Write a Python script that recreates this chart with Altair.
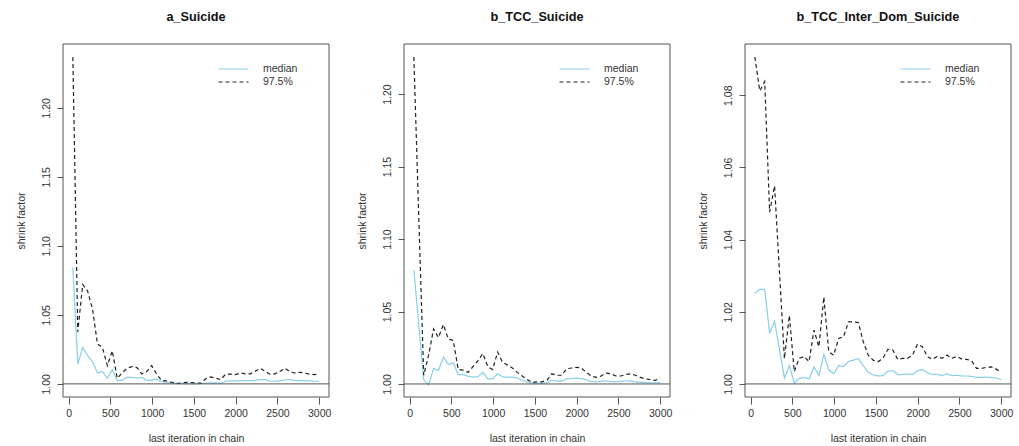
import altair as alt
import pandas as pd

iterations = [51, 110, 169, 228, 287, 346, 405, 464, 523, 582, 641, 700, 759, 818, 877,
              936, 995, 1054, 1113, 1172, 1231, 1290, 1349, 1408, 1467, 1526, 1585, 1644,
              1703, 1762, 1821, 1880, 1939, 1998, 2057, 2116, 2175, 2234, 2293, 2352, 2411,
              2470, 2529, 2588, 2647, 2706, 2765, 2824, 2883, 2942, 3000]

titles = ["a_Suicide", "b_TCC_Suicide", "b_TCC_Inter_Dom_Suicide"]
series_names = ["median", "97.5%"]

a_median = [1.0845, 1.0144, 1.0264, 1.0204, 1.016, 1.0079, 1.009, 1.004, 1.0103, 1.0024,
            1.0026, 1.0048, 1.0046, 1.0043, 1.0046, 1.0026, 1.0026, 1.0036, 1.0017, 1.001,
            1.0007, 1.0005, 1.0002, 1.0002, 1.0, 1.0, 1.0002, 1.0005, 1.0007, 1.0007,
            1.0005, 1.0019, 1.0022, 1.0022, 1.0022, 1.0024, 1.0024, 1.0026, 1.0031, 1.0031,
            1.0019, 1.0019, 1.0022, 1.0029, 1.0031, 1.0026, 1.0022, 1.0024, 1.0022, 1.0019,
            1.0019]
a_q975 = [1.2367, 1.0377, 1.072, 1.0672, 1.054, 1.0288, 1.0264, 1.0132, 1.024, 1.0041,
          1.0079, 1.0113, 1.0125, 1.0118, 1.0072, 1.0089, 1.0132, 1.0072, 1.0024, 1.0022,
          1.0012, 1.0002, 1.0007, 1.0012, 1.001, 1.0007, 1.0005, 1.0038, 1.005, 1.0041,
          1.0031, 1.007, 1.007, 1.0067, 1.0079, 1.0072, 1.0072, 1.0091, 1.0113, 1.0091,
          1.007, 1.0072, 1.0089, 1.0113, 1.0089, 1.0079, 1.0084, 1.0079, 1.007, 1.0067,
          1.007]

b_median = [1.0786, 1.041, 1.003, 0.9993, 1.0107, 1.0093, 1.0186, 1.0135, 1.0147, 1.0065,
            1.0065, 1.0053, 1.0047, 1.0049, 1.0081, 1.0035, 1.0035, 1.007, 1.0049, 1.0047,
            1.0047, 1.0042, 1.0026, 1.0014, 1.0005, 1.0002, 1.0005, 1.0007, 1.0026, 1.0019,
            1.0019, 1.0035, 1.0037, 1.004, 1.0037, 1.003, 1.0016, 1.0014, 1.0019, 1.0021,
            1.0016, 1.0016, 1.0019, 1.0021, 1.0019, 1.0014, 1.0012, 1.0009, 1.0007, 1.0007,
            1.0009]
b_q975 = [1.2256, 1.115, 1.006, 1.02, 1.038, 1.032, 1.041, 1.031, 1.030, 1.010,
          1.0095, 1.008, 1.012, 1.016, 1.021, 1.012, 1.01, 1.022, 1.015, 1.013,
          1.011, 1.008, 1.0055, 1.003, 1.001, 1.0015, 1.0015, 1.0025, 1.007, 1.006,
          1.006, 1.0105, 1.011, 1.0115, 1.011, 1.008, 1.0055, 1.0045, 1.0055, 1.0075,
          1.007, 1.0055, 1.0055, 1.0065, 1.007, 1.006, 1.0045, 1.0035, 1.003, 1.0025,
          1.004]

c_median = [1.0251, 1.0262, 1.0262, 1.014, 1.0174, 1.0095, 1.0016, 1.0051, 1.0002, 1.0016,
            1.0018, 1.0014, 1.0047, 1.0023, 1.0082, 1.0039, 1.0028, 1.0051, 1.0048, 1.0062,
            1.0066, 1.007, 1.0051, 1.0032, 1.0025, 1.0022, 1.0023, 1.0035, 1.0037, 1.0026,
            1.0026, 1.0028, 1.0026, 1.0037, 1.004, 1.0031, 1.0026, 1.0027, 1.0023, 1.0028,
            1.0023, 1.0024, 1.0022, 1.0022, 1.0021, 1.0018, 1.0018, 1.0019, 1.0018, 1.0016,
            1.0012]
c_q975 = [1.0906, 1.0812, 1.0838, 1.0476, 1.0549, 1.031, 1.007, 1.019, 1.0034, 1.0071,
          1.0076, 1.0062, 1.0149, 1.0103, 1.0241, 1.0089, 1.008, 1.0126, 1.0131, 1.0172,
          1.0172, 1.017, 1.0117, 1.008, 1.0066, 1.0062, 1.0071, 1.0096, 1.0094, 1.0068,
          1.0071, 1.0071, 1.008, 1.011, 1.0103, 1.0076, 1.0068, 1.0076, 1.0071, 1.008,
          1.0071, 1.0076, 1.0069, 1.0068, 1.0064, 1.0043, 1.0043, 1.0046, 1.0047, 1.0041,
          1.0032]

x_ticks = [0, 500, 1000, 1500, 2000, 2500, 3000]
y_ticks = [[1.00, 1.05, 1.10, 1.15, 1.20],
           [1.00, 1.05, 1.10, 1.15, 1.20],
           [1.00, 1.02, 1.04, 1.06, 1.08]]
y_domains = [[0.9905, 1.2462], [0.9910, 1.2346], [0.99638, 1.0942]]
x_domain = [-67, 3118]
ref_value = 1.0

FONT = "Liberation Sans"
TXT = "#333333"
BOX = "#555555"
medians = [a_median, b_median, c_median]
quantiles = [a_q975, b_q975, c_q975]


def panel(k):
    df = pd.DataFrame({
        "iter": iterations * 2,
        "value": medians[k] + quantiles[k],
        "series": ["median"] * len(iterations) + ["97.5%"] * len(iterations),
    })
    leg = alt.Legend(orient="none", legendX=164.5, legendY=19, title=None,
                     symbolType="M-3,0H3", symbolSize=100, symbolStrokeWidth=1.2,
                     labelFont=FONT, labelFontSize=10.5, labelColor=TXT,
                     labelOffset=23.5, padding=0, rowPadding=1)
    xscale = alt.Scale(domain=x_domain, nice=False, zero=False)
    yscale = alt.Scale(domain=y_domains[k], nice=False, zero=False)
    xenc = alt.X("iter:Q", scale=xscale,
                 axis=alt.Axis(values=x_ticks, format="d", title="last iteration in chain",
                               grid=False, domain=False, tickSize=7, tickColor=BOX,
                               labelFont=FONT, labelFontSize=10.5, labelColor=TXT,
                               labelPadding=4, titleFont=FONT, titleFontSize=10.5,
                               titleFontWeight="normal", titleColor=TXT, titlePadding=15,
                               labelFlush=False))
    yenc = alt.Y("value:Q", scale=yscale,
                 axis=alt.Axis(values=y_ticks[k], format=".2f", title="shrink factor",
                               grid=False, domain=False, tickSize=6, tickColor=BOX,
                               labelAngle=270, labelAlign="center", labelBaseline="bottom",
                               labelFont=FONT, labelFontSize=10.5, labelColor=TXT,
                               labelPadding=6, titleFont=FONT, titleFontSize=10.5,
                               titleFontWeight="normal", titleColor=TXT, titlePadding=15,
                               labelFlush=False))
    frame = alt.Chart(pd.DataFrame({
        "iter": [x_domain[0]], "iter2": [x_domain[1]],
        "value": [y_domains[k][0]], "value2": [y_domains[k][1]],
    })).mark_rect(filled=False, stroke=BOX, strokeWidth=1).encode(
        x=alt.X("iter:Q", scale=xscale), x2="iter2:Q",
        y=alt.Y("value:Q", scale=yscale), y2="value2:Q",
    )
    lines = alt.Chart(df).mark_line(strokeWidth=1.2, clip=True).encode(
        x=xenc, y=yenc,
        color=alt.Color("series:N", scale=alt.Scale(domain=series_names,
                                                     range=["#87CEEB", "#222222"]),
                        legend=leg),
        strokeDash=alt.StrokeDash("series:N",
                                  scale=alt.Scale(domain=series_names,
                                                  range=[[1, 0], [4, 3]]),
                                  legend=leg),
        order=alt.Order("iter:Q"),
    )
    rule = alt.Chart(pd.DataFrame({"ref": [ref_value]})).mark_rule(
        color=BOX, strokeWidth=1).encode(y=alt.Y("ref:Q", scale=yscale))
    return alt.layer(lines, rule, frame).properties(
        width=266, height=353,
        title=alt.TitleParams(titles[k], font=FONT, fontSize=12.7, fontWeight="bold",
                              color="#111111", anchor="middle", baseline="alphabetic",
                              offset=10),
    )


chart = alt.hconcat(panel(0), panel(1), panel(2), spacing=75, bounds="flush").resolve_scale(
    color="independent", strokeDash="independent"
).resolve_legend(color="independent", strokeDash="independent").properties(
    padding={"left": 15, "top": 10, "right": 5, "bottom": 0},
    background="white",
).configure_view(strokeWidth=0)

chart.save("out.html", embed_options={"renderer": "svg", "actions": False})
